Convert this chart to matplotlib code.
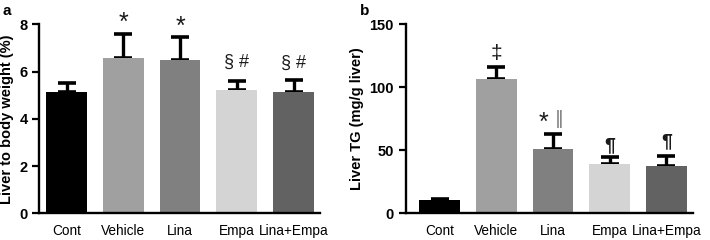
import matplotlib
matplotlib.use('Agg')
import matplotlib.pyplot as plt
import numpy as np

plt.rcParams['font.family'] = ['Liberation Sans', 'DejaVu Sans']

groups = ['Cont', 'Vehicle', 'Lina', 'Empa', 'Lina+Empa']
colors = ['#000000', '#a0a0a0', '#808080', '#d4d4d4', '#626262']

# panel a: liver to body weight (%)
lbw_mean = [5.15, 6.57, 6.50, 5.20, 5.15]
lbw_sem = [0.38, 1.03, 0.94, 0.39, 0.48]
lbw_marks = ['', '*', '*', '§ #', '§ #']
lbw_mark_y = [0, 8.05, 7.9, 6.4, 6.35]

# panel b: liver TG (mg/g liver)
tg_mean = [10.6, 106.6, 51.0, 39.0, 37.8]
tg_sem = [0.8, 9.5, 12.0, 6.0, 8.0]
tg_marks = ['', '‡', '*', '¶', '¶']
tg_mark_y = [0, 127, 72, 54, 56.5]

fig = plt.figure(figsize=(7.1, 2.4), dpi=100)
ax1 = fig.add_axes([0.0554, 0.111, 0.3956, 0.788])
ax2 = fig.add_axes([0.5714, 0.111, 0.4046, 0.788])

x = np.arange(len(groups))
mark_size = {'*': 18, '§ #': 13, '‡': 15, '¶': 14}
mark_dx = {'*': 0.0, '§ #': 0.0, '‡': 0.0, '¶': 0.0}


def draw(ax, mean, sem, marks, mark_y, ylim, yticks, ylabel, xlim, dx=None):
    ax.bar(x, mean, width=0.72, color=colors, zorder=2)
    ax.errorbar(x, mean, yerr=[np.zeros(len(sem)), sem], fmt='none',
                ecolor='black', elinewidth=2.4, capsize=6.8, capthick=2.6, zorder=1)
    for i, m in enumerate(marks):
        if m:
            off = dx[i] if dx else 0
            ax.text(x[i] + off, mark_y[i], m, ha='center', va='center',
                    fontsize=mark_size[m], color='#1a1a1a', clip_on=False,
                    fontweight='bold' if m == '¶' else 'normal')
    ax.set_ylim(*ylim)
    ax.set_xlim(*xlim)
    ax.set_yticks(yticks)
    ax.set_xticks(x)
    ax.set_xticklabels(groups, fontsize=9.8)
    ax.tick_params(axis='x', length=0, pad=8)
    ax.tick_params(axis='y', direction='out', length=5, width=1.6, labelsize=10.5)
    for lab in ax.get_yticklabels():
        lab.set_fontweight('bold')
    ax.set_ylabel(ylabel, fontsize=10.5, fontweight='bold', labelpad=4)
    for s in ['top', 'right']:
        ax.spines[s].set_visible(False)
    for s in ['left', 'bottom']:
        ax.spines[s].set_linewidth(1.7)


draw(ax1, lbw_mean, lbw_sem, lbw_marks, lbw_mark_y, (0, 8), [0, 2, 4, 6, 8],
     'Liver to body weight (%)', (-0.48, 4.47))
draw(ax2, tg_mean, tg_sem, tg_marks, tg_mark_y, (0, 150), [0, 50, 100, 150],
     'Liver TG (mg/g liver)', (-0.6, 4.47), dx=[0, 0, -0.16, 0, 0])

# thin grey double bar next to the Lina asterisk
ax2.text(2.11, 75, '‖', ha='center', va='center', fontsize=13,
         color='#777777', family=['DejaVu Sans'])

fig.text(0.004, 0.955, 'a', fontsize=11, fontweight='bold', va='center')
fig.text(0.507, 0.955, 'b', fontsize=11, fontweight='bold', va='center')

fig.savefig('out.png', dpi=100)
